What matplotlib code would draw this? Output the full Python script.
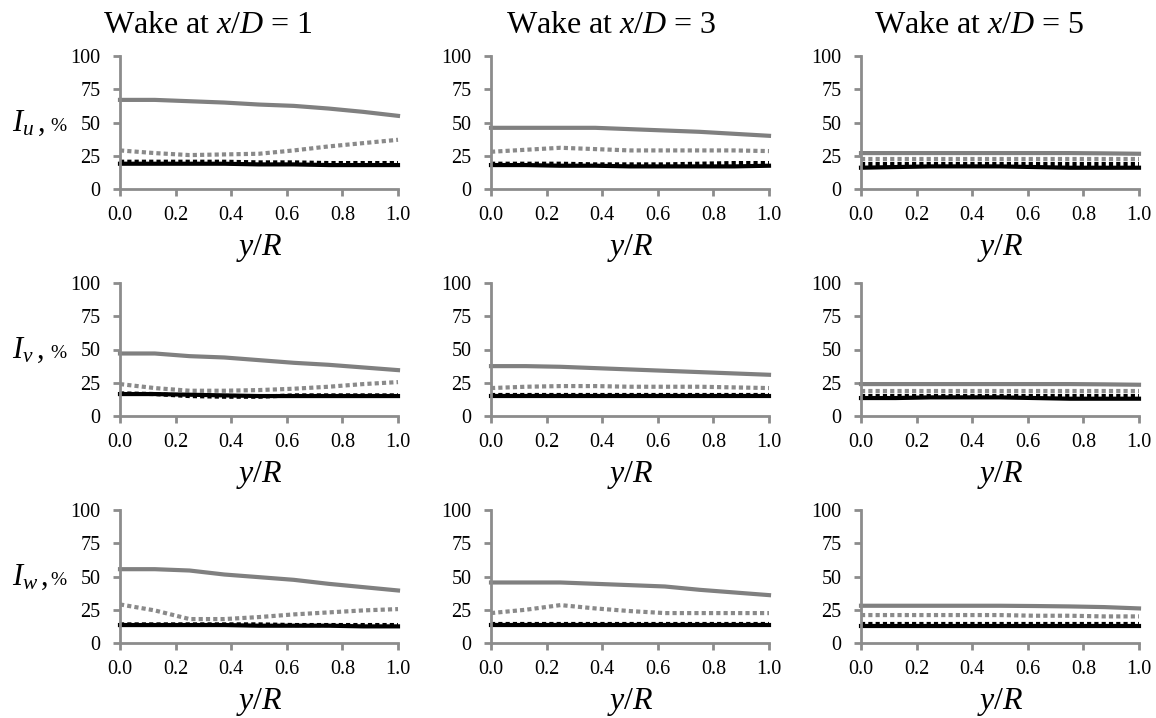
import matplotlib
matplotlib.use("Agg")
import matplotlib.pyplot as plt

plt.rcParams['font.family'] = ['Liberation Serif', 'DejaVu Serif']
plt.rcParams['mathtext.fontset'] = 'custom'
plt.rcParams['mathtext.rm'] = 'Liberation Serif'
plt.rcParams['mathtext.it'] = 'Liberation Serif:italic'

# radial positions y/R
y_r = [0.0, 0.125, 0.25, 0.375, 0.5, 0.625, 0.75, 0.875, 1.0]

col_titles = ['1', '3', '5']
row_labels = ['u', 'v', 'w']

# values per panel [row][col]
gray_solid = [
    [[67, 67, 66, 65, 63.5, 62.5, 60.5, 58, 55],
     [46, 46, 46, 46, 45, 44, 43, 41.5, 40],
     [27, 27, 27, 27, 27, 27, 27, 26.8, 26.5]],
    [[47, 47, 45, 44, 42, 40, 38.5, 36.5, 34.5],
     [37.5, 37.5, 37, 36, 35, 34, 33, 32, 31],
     [24, 24, 24, 24, 24, 24, 24, 23.8, 23.5]],
    [[55.5, 55.5, 54.5, 51.5, 49.5, 47.5, 44.5, 42, 39.5],
     [45.5, 45.5, 45.5, 44.5, 43.5, 42.5, 40, 38, 36],
     [28, 28, 28, 28, 28, 27.8, 27.5, 27, 26]],
]
gray_dot = [
    [[29, 27, 25.5, 26, 26.5, 29, 32, 34.5, 37],
     [28, 29.5, 31, 30, 29, 29, 29, 29, 28.5],
     [22.5, 22.5, 22.5, 22.5, 22.5, 22.5, 22.5, 22.5, 22.5]],
    [[24, 21, 19, 19, 19.5, 20.5, 22, 24, 25.5],
     [21, 22, 22.5, 22.5, 22, 22, 22, 21.5, 21],
     [19, 19, 19, 19, 19, 19, 19, 19, 19]],
    [[29, 24.5, 18, 18, 19.5, 21.5, 23, 24.5, 25.5],
     [22.5, 25, 28.5, 26, 24, 22.5, 22.5, 22.5, 22.5],
     [21, 21, 21, 21, 21, 20.5, 20.5, 20, 20]],
]
black_dot = [
    [[20.5, 20.5, 20.5, 20.5, 20, 20, 19.5, 19.5, 19.5],
     [19, 19, 19, 18.5, 18.5, 18.5, 19, 19.5, 19.5],
     [18.5, 18.5, 18.5, 18.5, 18.5, 18.5, 18.5, 18.5, 18.5]],
    [[17, 16.5, 15, 14.5, 14.5, 15.5, 15.5, 15.5, 15.5],
     [16, 16, 16, 16, 16, 16, 16, 16, 16],
     [15, 15, 15, 15, 15, 15, 15, 15, 15]],
    [[14, 14, 14, 14, 14, 13.5, 13.5, 13.5, 13.5],
     [14, 14, 14, 14, 14, 14, 14, 14, 14],
     [14, 14, 14, 14, 14, 14, 14, 14, 14]],
]
black_solid = [
    [[19, 19, 19, 19, 18.5, 18.5, 18, 18, 18],
     [18, 18, 17.5, 17.5, 17, 17, 17, 17, 17.5],
     [16, 16.5, 17, 17, 17, 16.5, 16, 16, 16]],
    [[16.5, 16.5, 16, 15.5, 15, 15, 15, 15, 15],
     [15, 15, 15, 15, 15, 15, 15, 15, 15],
     [13.5, 13.5, 14, 14, 14, 13.5, 13, 13, 13]],
    [[13.5, 13.5, 13.5, 13.5, 13, 13, 13, 12.5, 12.5],
     [13.5, 13.5, 13.5, 13.5, 13.5, 13.5, 13.5, 13.5, 13.5],
     [12.5, 12.5, 12.5, 12.5, 12.5, 12.5, 12.5, 12.5, 12.5]],
]

W, H = 1156, 718
fig = plt.figure(figsize=(W / 100, H / 100), dpi=100)

lefts = [120, 491, 861]
tops = [56, 283, 510]
aw, ah = 278, 133
axis_gray = '#8c8c8c'
dots = (0, (1.0, 0.75))

for r in range(3):
    for c in range(3):
        ax = fig.add_axes([lefts[c] / W, 1 - (tops[r] + ah) / H, aw / W, ah / H])
        ax.plot(y_r, gray_solid[r][c], color='#808080', lw=3, clip_on=False)
        ax.plot(y_r, gray_dot[r][c], color='#8a8a8a', lw=3, ls=dots, clip_on=False)
        ax.plot(y_r, black_dot[r][c], color='black', lw=3, ls=dots, clip_on=False)
        ax.plot(y_r, black_solid[r][c], color='black', lw=3, clip_on=False)
        ax.set_xlim(0, 1)
        ax.set_ylim(0, 100)
        ax.set_xticks([0, 0.2, 0.4, 0.6, 0.8, 1.0])
        ax.set_xticklabels(['0.0', '0.2', '0.4', '0.6', '0.8', '1.0'])
        ax.set_yticks([0, 25, 50, 75, 100])
        for s in ['top', 'right']:
            ax.spines[s].set_visible(False)
        for s in ['left', 'bottom']:
            ax.spines[s].set_color(axis_gray)
            ax.spines[s].set_linewidth(2)
        ax.tick_params(axis='both', colors=axis_gray, labelcolor='black', width=2, length=5,
                       labelsize=14.5, direction='out')
        ax.tick_params(axis='x', pad=7)
        ax.tick_params(axis='y', pad=9)
        ax.text(0.5, -0.445, r'$y$/$R$', transform=ax.transAxes, fontsize=23,
                ha='center', va='center')
        if c == 0:
            base = 1 - (131 + 227 * r) / H
            fig.text(12 / W, base, r'$I_%s\,$,' % row_labels[r], fontsize=22,
                     ha='left', va='baseline')
            fig.text(50 / W, base, '%', fontsize=14, ha='left', va='baseline')
        if r == 0:
            cx = [208, 611, 979][c]
            fig.text(cx / W, 1 - 33 / H, r'Wake at $x$/$D$ = %s' % col_titles[c],
                     fontsize=23, ha='center', va='baseline')

fig.savefig('out.png', dpi=100)
